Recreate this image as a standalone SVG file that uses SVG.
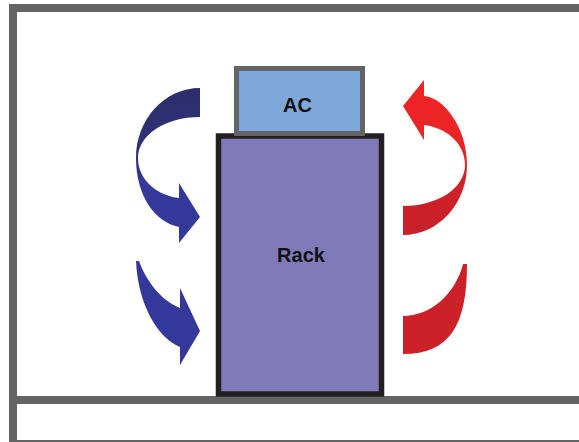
<svg xmlns="http://www.w3.org/2000/svg" width="579" height="442" viewBox="0 0 579 442">
<defs>
<linearGradient id="gBlue" x1="0" y1="0" x2="0" y2="1">
<stop offset="0" stop-color="#2c2d6c"/>
<stop offset="0.45" stop-color="#2f3278"/>
<stop offset="0.6" stop-color="#34389a"/>
<stop offset="1" stop-color="#35399a"/>
</linearGradient>
<linearGradient id="gRed" x1="0" y1="0" x2="0" y2="1">
<stop offset="0" stop-color="#ef2424"/>
<stop offset="0.5" stop-color="#e82326"/>
<stop offset="0.65" stop-color="#cf2129"/>
<stop offset="1" stop-color="#c9202a"/>
</linearGradient>
<style>
.frame{fill:none;stroke:#646464;stroke-width:8}
.lbl{font-family:"Liberation Sans",Arial,sans-serif;font-weight:bold;font-size:20px;fill:#111;text-anchor:middle}
</style>
</defs>
<g id="room">
<rect class="frame" x="13" y="8" width="620" height="436"/>
<line class="frame" x1="13" y1="400" x2="579" y2="400"/>
</g>
<g id="rack">
<rect x="218.5" y="136" width="163" height="258" fill="#817ab8" stroke="#231f20" stroke-width="5.5"/>
<text class="lbl" x="301" y="262">Rack</text>
</g>
<g id="ac">
<rect x="236.5" y="68.5" width="126" height="65" fill="#7ea8d9" stroke="#646464" stroke-width="5"/>
<text class="lbl" x="297.5" y="112">AC</text>
</g>
<g id="connectors">
<path d="M 200,88 C 164,88 136,120 136,158 C 136,196 155,222 179,227 L 179,243 L 200,217 L 179,183 L 179,198 C 160,196 138,182 138,158 C 138,135 165,117 200,117 Z" fill="url(#gBlue)"/>
<path d="M 136,261 C 138,305 158,338 180,347 L 180,365 L 200,331 L 180,288 L 180,308 C 160,300 146,280 139,261 Z" fill="#34389a"/>
<path d="M 403,235 C 439,235 467,203 467,165 C 467,127 443,97 424,96 L 424,80 L 403,106 L 424,140 L 424,125 C 443,127 465,141 465,165 C 465,188 438,206 403,206 Z" fill="url(#gRed)"/>
<path d="M 403,354 C 450,354 467,325 467,264 L 463,264 C 455,295 430,316 403,316 Z" fill="#cc2129"/>
</g>
</svg>
